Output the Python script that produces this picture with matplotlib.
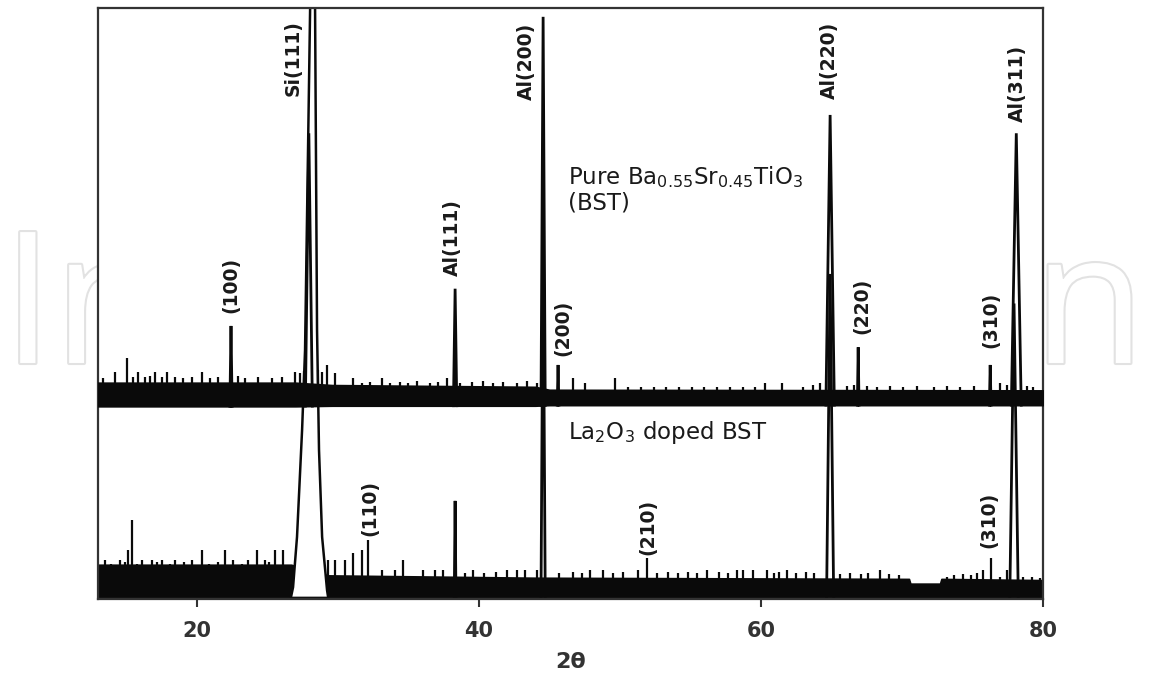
import numpy as np
import matplotlib.pyplot as plt
from matplotlib import patheffects as pe

# ---- scan data (2theta in degrees, intensity in a.u., doped scan at the bottom) ----
x_lim = (13, 80)
x_ticks = [20, 40, 60, 80]

# envelope of the noisy background of each scan
pure_band_x = [13.0, 27.0, 29.6, 44.0, 45.0, 80.0]
pure_band_lo = [32.6, 32.6, 32.7, 32.7, 32.8, 32.8]
pure_band_hi = [36.6, 36.6, 36.2, 35.9, 35.4, 35.3]

doped_band_x = [13.0, 26.7, 29.3, 44.0, 70.5, 70.6, 72.7, 72.8, 80.0]
doped_band_lo = [0.4, 0.4, 0.4, 0.4, 0.4, 0.4, 0.4, 0.4, 0.4]
doped_band_hi = [5.8, 5.8, 4.0, 3.6, 3.4, 2.6, 2.6, 3.4, 3.2]

# single-channel noise spikes sticking out of the background
pure_spike_x = [13.38, 14.21, 15.03, 15.50, 15.86, 16.33, 16.69, 17.04, 17.52, 17.87,
                18.46, 19.05, 19.64, 20.35, 20.94, 21.53, 22.95, 23.43, 24.37, 25.32,
                26.03, 26.97, 27.30, 27.60, 28.60, 28.90, 29.22, 29.81, 31.11, 31.70,
                32.29, 33.12, 33.71, 34.42, 35.01, 35.60, 36.55, 37.13, 37.73, 38.67,
                39.50, 40.33, 41.04, 41.74, 42.70, 43.40, 44.11, 46.69, 47.54, 49.67,
                50.6, 51.5, 52.4, 53.3, 54.2, 55.1, 56.0, 56.9, 57.8, 58.7,
                59.6, 60.30, 61.51, 63.02, 63.73, 64.20, 66.10, 66.57, 67.52, 68.22,
                69.17, 70.11, 71.06, 72.24, 73.19, 74.13, 75.08, 76.97, 77.45, 78.86,
                79.31]
pure_spike_y = [37.4, 38.4, 40.8, 37.6, 38.4, 37.6, 37.8, 38.4, 37.6, 38.4,
                37.6, 37.4, 37.6, 38.4, 37.4, 37.6, 37.8, 37.4, 37.6, 37.4,
                37.6, 38.4, 38.2, 38.6, 38.8, 38.4, 39.6, 38.2, 37.4, 36.6,
                36.8, 37.4, 36.6, 36.8, 36.6, 36.9, 36.6, 36.8, 37.4, 36.6,
                36.8, 36.9, 36.6, 36.8, 36.6, 36.9, 36.6, 37.4, 36.6, 37.4,
                35.8, 35.9, 35.8, 35.9, 35.8, 35.9, 35.8, 35.9, 35.8, 35.9,
                35.8, 36.5, 36.5, 35.9, 36.2, 36.5, 36.0, 36.2, 36.0, 35.9,
                36.0, 35.9, 36.0, 35.9, 36.0, 35.9, 36.0, 36.5, 36.2, 36.0,
                35.9]

doped_spike_x = [13.50, 13.90, 14.56, 14.90, 15.13, 15.41, 15.80, 16.12, 16.83, 17.20,
                 17.54, 18.10, 18.46, 19.10, 19.67, 20.38, 20.90, 21.50, 22.01, 22.57,
                 23.20, 23.64, 24.28, 24.84, 25.10, 25.55, 26.12, 29.31, 29.81, 30.52,
                 31.09, 31.72, 32.15, 33.14, 34.06, 34.63, 36.05, 36.90, 37.47, 39.00,
                 39.60, 40.40, 41.20, 42.01, 42.72, 43.28, 44.13, 45.70, 46.70, 47.30,
                 47.89, 48.82, 49.50, 50.20, 51.30, 51.94, 52.60, 53.40, 54.10, 54.80,
                 55.50, 56.19, 57.00, 57.70, 58.32, 58.74, 59.45, 60.45, 60.90, 61.30,
                 61.87, 62.50, 63.20, 63.80, 65.60, 66.30, 67.10, 67.60, 68.46, 69.10,
                 69.80, 73.21, 73.70, 74.30, 74.90, 75.30, 75.77, 76.33, 76.97, 77.47,
                 78.60, 79.20, 79.81]
doped_spike_y = [6.6, 6.0, 6.6, 6.2, 8.3, 13.4, 6.0, 6.6, 6.6, 6.2,
                 6.6, 6.0, 6.6, 6.2, 6.6, 8.3, 6.0, 6.2, 8.3, 6.6,
                 6.0, 6.6, 8.3, 6.6, 6.2, 8.3, 8.3, 6.6, 6.6, 6.6,
                 7.8, 8.3, 10.0, 4.9, 4.9, 6.6, 4.9, 4.9, 4.9, 4.4,
                 4.9, 4.4, 4.6, 4.9, 4.9, 4.9, 4.9, 4.4, 4.6, 4.4,
                 4.9, 4.9, 4.4, 4.6, 4.9, 6.9, 4.4, 4.6, 4.4, 4.6,
                 4.4, 4.9, 4.6, 4.4, 4.9, 4.9, 4.9, 4.9, 4.4, 4.6,
                 4.9, 4.4, 4.6, 4.4, 4.2, 4.4, 4.2, 4.4, 4.9, 4.2,
                 4.0, 3.7, 4.0, 4.2, 4.0, 4.4, 4.9, 6.9, 3.7, 4.9,
                 3.8, 3.8, 3.6]

# reflections: position, top, half width at the base
pure_peak_x = [22.43, 27.95, 38.32, 44.56, 45.62, 64.91, 66.90, 76.26, 78.11]
pure_peak_top = [46.2, 78.8, 52.5, 98.5, 39.6, 81.9, 42.6, 39.6, 78.8]
pure_peak_hw = [0.08, 0.25, 0.12, 0.15, 0.06, 0.30, 0.06, 0.06, 0.35]

doped_peak_x = [38.32, 44.56, 64.91, 77.95]
doped_peak_top = [16.6, 60.0, 55.0, 50.0]
doped_peak_hw = [0.06, 0.15, 0.25, 0.30]

# broad Si(111) reflection of the doped film (runs off the top)
doped_si_x = [26.69, 26.83, 27.11, 27.47, 27.68, 27.82, 28.04, 28.22,
              28.39, 28.53, 28.67, 28.89, 29.24, 29.31]
doped_si_y = [0.4, 2.0, 10.5, 28.6, 42.1, 64.6, 100.0, 260.0,
              100.0, 45.5, 25.2, 10.5, 1.5, 0.4]

# peak labels: text, 2theta, height
label_text = ['(100)', 'Si(111)', 'Al(111)', 'Al(200)', '(200)', 'Al(220)', '(220)',
              '(310)', 'Al(311)', '(110)', '(210)', '(310)']
label_x = [22.43, 26.83, 38.11, 43.35, 45.98, 64.84, 67.18,
           76.33, 78.18, 32.29, 52.01, 76.19]
label_y = [53.1, 91.5, 61.1, 91.0, 45.9, 91.2, 49.6,
           47.2, 87.3, 15.4, 12.2, 13.4]

INK = '#0a0a0a'
TXT = '#1a1a1a'


def draw_scan(ax, band_x, band_lo, band_hi, spike_x, spike_y,
              peak_x, peak_top, peak_hw, z):
    ax.fill_between(band_x, band_lo, band_hi, color=INK, lw=1.2, zorder=z)
    base = np.interp(spike_x, band_x, band_lo)
    ax.vlines(spike_x, base, spike_y, color=INK, lw=1.6, zorder=z)
    for c, top, hw in zip(peak_x, peak_top, peak_hw):
        b = np.interp(c, band_x, band_lo)
        ax.plot([c - hw, c, c + hw], [b, top, b], color=INK, lw=2.0,
                solid_joinstyle='miter', zorder=z)


fig = plt.figure(figsize=(11.49, 6.81), dpi=100)
fig.patch.set_facecolor('white')

# faint publisher mark behind the plot (only the outer letters show)
mark = dict(fontsize=132, family='Open Sans', color='white', ha='left',
            va='baseline', zorder=-5,
            path_effects=[pe.withStroke(linewidth=3, foreground='#e2e2e2')])
fig.text(0.002, 0.467, 'In', **mark)
fig.text(0.899, 0.467, 'n', **mark)

ax = fig.add_axes([0.0853, 0.1204, 0.8224, 0.8679])
ax.set_facecolor('white')

# doped scan first, the pure scan is drawn over it
draw_scan(ax, doped_band_x, doped_band_lo, doped_band_hi, doped_spike_x,
          doped_spike_y, doped_peak_x, doped_peak_top, doped_peak_hw, 2)
ax.fill(doped_si_x, doped_si_y, color='white', lw=0, zorder=2)
ax.plot(doped_si_x, doped_si_y, color=INK, lw=1.8, zorder=2)
draw_scan(ax, pure_band_x, pure_band_lo, pure_band_hi, pure_spike_x,
          pure_spike_y, pure_peak_x, pure_peak_top, pure_peak_hw, 3)

for t, x, y in zip(label_text, label_x, label_y):
    ax.text(x, y, t, rotation=90, ha='center', va='center', fontsize=13.5,
            family='DejaVu Sans', fontweight='bold', color=TXT, zorder=5)

plt.rcParams['mathtext.fontset'] = 'dejavusans'
ax.text(46.33, 71.4, r'Pure Ba$_{\mathregular{0.55}}$Sr$_{\mathregular{0.45}}$TiO$_{\mathregular{3}}$',
        fontsize=16.5, color=TXT, ha='left', va='center', zorder=5)
ax.text(46.33, 67.0, '(BST)', fontsize=16.5, color=TXT,
        ha='left', va='center', zorder=5)
ax.text(46.33, 28.1, r'La$_{\mathregular{2}}$O$_{\mathregular{3}}$ doped BST',
        fontsize=16.5, color=TXT, ha='left', va='center', zorder=5)

ax.set_xlim(*x_lim)
ax.set_ylim(0, 100)
ax.set_xticks(x_ticks)
ax.set_yticks([])
ax.tick_params(axis='x', direction='out', length=6, width=1.5, pad=10,
               colors='#333333', labelsize=15)
for lbl in ax.get_xticklabels():
    lbl.set_fontweight('bold')
for sp in ax.spines.values():
    sp.set_linewidth(1.6)
    sp.set_color('#333333')
ax.set_xlabel('2θ', fontsize=16, fontweight='bold', color='#333333', labelpad=8)

fig.savefig('out.png', dpi=100, facecolor='white')
